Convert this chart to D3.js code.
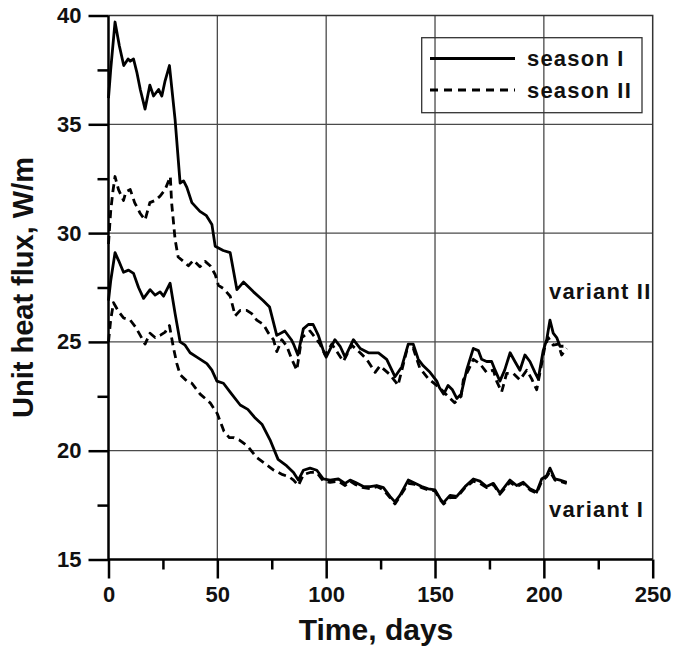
<!DOCTYPE html>
<html>
<head>
<meta charset="utf-8">
<script src="https://cdn.jsdelivr.net/npm/d3@7"></script>
<style>
  html, body { margin: 0; padding: 0; background: #fff; }
  svg { display: block; }
  text { font-family: "Liberation Sans", Arial, sans-serif; font-weight: bold; fill: #111; }
</style>
</head>
<body>
<svg id="chart" width="676" height="647"></svg>
<script>
// Axis definitions
const xDomain = [0, 250];
const yDomain = [15, 40];
const xMajorTicks = [0, 50, 100, 150, 200, 250];
const xMinorTicks = [25, 75, 125, 175, 225];
const yMajorTicks = [15, 20, 25, 30, 35, 40];
const yMinorTicks = [17.5, 22.5, 27.5, 32.5, 37.5];
const xGrid = [50, 100, 150, 200];
const yGrid = [20, 25, 30, 35];

const xTitle = "Time, days";
const yTitle = "Unit heat flux, W/m";
const legendLabels = ["season I", "season II"];
const variantLabels = ["variant II", "variant I"];

// Variant II, season I (solid)
const v2s1Days = [0,1,3,5,7,9,10,11.5,13,14.6,16.8,19,20.7,23,24.5,26,28,30.6,32.9,34.5,
  36,38.3,42,45,47.5,49,52.7,55.9,59,62,66.6,71,74,77.3,81,84,85,87,89.5,91.8,
  94,96.4,98.7,100,104,106.4,108.7,112.5,115.6,119.4,124,127.8,131.6,134.7,137.7,140,142.3,144.6,147.7,150.8,
  152,154,156,158,160,162,164.5,167.6,169.9,171.4,173.7,176,177.6,179.8,182,184.5,186.7,189,191.3,193.6,
  195.9,197.4,199.7,201.3,202.8,204.3,205.9,207.4,209];
const v2s1Values = [36.2,37.5,39.7,38.6,37.7,38.0,37.9,38.0,37.4,36.6,35.7,36.8,36.3,36.6,36.3,37.0,37.7,35.2,32.3,32.4,
  32.1,31.4,31.0,30.8,30.4,29.4,29.2,29.1,27.4,27.75,27.3,26.9,26.6,25.3,25.5,25.1,24.9,24.4,25.6,25.8,
  25.8,25.3,24.6,24.3,25.1,24.8,24.3,25.1,24.7,24.5,24.5,24.2,23.4,23.85,24.9,24.9,24.2,23.9,23.6,23.2,
  22.9,22.6,23.0,22.8,22.4,22.6,23.7,24.7,24.6,24.2,24.1,24.1,23.7,23.2,23.7,24.5,24.1,23.7,24.4,24.1,
  23.6,23.3,24.6,25.1,26.0,25.4,25.2,24.8,24.8];

// Variant II, season II (dashed)
const v2s2Days = [0,1,2,3,4.6,6.9,8,10,12,14.6,16.8,19,21.4,23.7,26,28.4,29,30.6,32,34.4,
  36.7,39,42,44.4,46.7,49,50.5,52.8,55.9,58.2,60.5,63.5,65.8,68.1,71.2,73.5,75.8,77.3,79.6,81.9,
  84.2,86.5,88.8,92.6,97.2,99.5,102.6,107.9,111.7,115.6,118.6,122.5,124.7,129.3,131.6,133,137,140,143,147,
  152,156,159,162,163,165.3,167.6,170.6,173.7,176.8,178.3,180.6,182.9,186,189,192.1,194.4,196.7,199,200.5,
  202,204.3,206.6,208.2,210.5];
const v2s2Values = [29.5,31.0,31.9,32.6,32.0,31.5,31.9,32.0,31.4,30.9,30.6,31.4,31.5,31.7,32.0,32.6,31.4,29.7,28.9,28.7,
  28.5,28.75,28.45,28.7,28.5,28.1,27.6,27.45,27.1,26.2,26.45,26.45,26.3,26.0,25.8,25.4,25.1,24.55,25.1,24.8,
  24.2,23.7,25.2,25.5,24.9,24.4,24.9,24.1,24.85,24.5,24.2,23.6,23.9,23.5,23.2,23.0,24.6,24.7,23.8,23.3,
  22.9,22.5,22.2,22.5,23.25,23.7,24.2,24.0,23.6,23.7,23.2,22.7,23.55,23.55,23.25,23.7,23.3,22.8,24.0,24.8,
  25.2,24.85,24.9,24.4,24.7];

// Variant I, season I (solid)
const v1s1Days = [0,1,3,4.6,6.9,9.2,11.5,13.8,16.1,19.1,21.4,23.7,25.3,28.3,30.6,32.9,35.2,37.5,40.6,42.9,
  45.2,47.5,49.8,52.8,55.8,60.5,64,67.4,70.6,74.2,77.9,81.9,85,87.2,89.5,92.6,95.7,98.7,101.8,105.6,
  108.7,111,113.3,117.1,120.2,123.2,126.3,129.3,131.6,133.9,137.7,140.8,143.9,146.9,150,152.3,153.8,156.9,160,163.8,
  167.6,170.6,173.7,176.8,179.8,184.4,187.5,190.5,193.6,196.7,199,201.3,202.8,205.1,207.4,210.5];
const v1s1Values = [26.9,27.8,29.1,28.75,28.2,28.3,28.15,27.5,27.0,27.4,27.15,27.3,27.1,27.7,26.3,25.0,24.85,24.5,24.3,24.15,
  24.0,23.7,23.2,23.1,22.7,22.1,21.9,21.5,21.2,20.5,19.6,19.3,19.0,18.65,19.1,19.2,19.1,18.7,18.65,18.7,
  18.5,18.65,18.55,18.35,18.35,18.4,18.3,17.9,17.65,17.95,18.65,18.5,18.35,18.25,18.2,17.8,17.6,17.95,17.9,18.35,
  18.7,18.6,18.35,18.5,18.05,18.65,18.4,18.55,18.25,18.1,18.7,18.85,19.2,18.7,18.65,18.55];

// Variant I, season II (dashed)
const v1s2Days = [0,1,2.3,4.6,6.9,10,12.3,14.6,16.8,19.1,21.4,23.7,26,28,29.8,31.4,32.9,36,38.3,42.1,
  46.7,50,53,55.5,57.5,60,64,68,72,76,80,83,85,87.2,89.5,92.6,95.7,98.7,101.8,105.6,
  108.7,111,113.3,117.1,120.2,123.2,126.3,129.3,131.6,133.9,137.7,140.8,143.9,146.9,150,152.3,154,156.9,160,163.8,
  167.6,170.6,173.7,176.8,179.8,184.4,187.5,190.5,193.6,196.7,199,201.3,202.8,205.1,207.4,210.5];
const v1s2Values = [25.0,26.0,26.8,26.4,26.1,26.0,25.7,25.3,24.9,25.4,25.2,25.3,25.45,25.75,24.75,24.0,23.5,23.2,23.1,22.6,
  22.2,21.7,20.9,20.6,20.6,20.5,20.2,19.7,19.4,19.1,18.9,18.8,18.65,18.4,18.9,19.0,19.0,18.6,18.55,18.6,
  18.4,18.6,18.45,18.3,18.25,18.35,18.2,17.85,17.55,17.9,18.5,18.45,18.3,18.2,18.15,17.75,17.55,17.85,17.85,18.3,
  18.6,18.5,18.3,18.45,18.0,18.55,18.35,18.5,18.2,18.05,18.6,18.8,19.05,18.65,18.6,18.5];

const series = [
  { days: v2s1Days, values: v2s1Values, dashed: false },
  { days: v2s2Days, values: v2s2Values, dashed: true },
  { days: v1s1Days, values: v1s1Values, dashed: false },
  { days: v1s2Days, values: v1s2Values, dashed: true }
];

const margin = { left: 108.5, top: 15.5, right: 676 - 652.7, bottom: 647 - 559.5 };
const W = 676, H = 647;
const svg = d3.select("#chart");

const x = d3.scaleLinear().domain(xDomain).range([margin.left, W - margin.right]);
const y = d3.scaleLinear().domain(yDomain).range([H - margin.bottom, margin.top]);

const gridColor = "#4a4a4a";

// grid lines
svg.append("g")
  .selectAll("line").data(xGrid).join("line")
  .attr("x1", d => x(d)).attr("x2", d => x(d))
  .attr("y1", y(yDomain[0])).attr("y2", y(yDomain[1]))
  .attr("stroke", gridColor).attr("stroke-width", 1.3);
svg.append("g")
  .selectAll("line").data(yGrid).join("line")
  .attr("x1", x(xDomain[0])).attr("x2", x(xDomain[1]))
  .attr("y1", d => y(d)).attr("y2", d => y(d))
  .attr("stroke", gridColor).attr("stroke-width", 1.3);

// top and right frame
svg.append("path")
  .attr("d", `M${x(0)},${y(40)}H${x(250)}V${y(15)}`)
  .attr("fill", "none").attr("stroke", "#333").attr("stroke-width", 1.5);

// series lines
const line = d3.line().x(d => x(d[0])).y(d => y(d[1]));
series.forEach(s => {
  const pts = s.days.map((d, i) => [d, s.values[i]]);
  svg.append("path")
    .datum(pts)
    .attr("d", line)
    .attr("fill", "none")
    .attr("stroke", "#000")
    .attr("stroke-width", 2.8)
    .attr("stroke-linejoin", "round")
    .attr("stroke-dasharray", s.dashed ? "8,5" : null);
});

// axes
function styleAxis(g) {
  g.select(".domain").remove();
  g.selectAll(".tick line").attr("stroke", "#000").attr("stroke-width", 2.5);
  g.selectAll(".tick text").attr("font-size", 22).attr("font-weight", "bold")
    .attr("font-family", "'Liberation Sans', Arial, sans-serif").attr("fill", "#111");
}
const xAxis = svg.append("g").attr("transform", `translate(0,${y(15)})`)
  .call(d3.axisBottom(x).tickValues(xMajorTicks).tickSize(19).tickPadding(8).tickFormat(d3.format("d")));
styleAxis(xAxis);
xAxis.selectAll(".tick text").attr("dy", "0.71em");
const xMinor = svg.append("g").attr("transform", `translate(0,${y(15)})`)
  .call(d3.axisBottom(x).tickValues(xMinorTicks).tickSize(10).tickFormat(""));
styleAxis(xMinor);

const yAxis = svg.append("g").attr("transform", `translate(${x(0)},0)`)
  .call(d3.axisLeft(y).tickValues(yMajorTicks).tickSize(20).tickPadding(7).tickFormat(d3.format("d")));
styleAxis(yAxis);
const yMinor = svg.append("g").attr("transform", `translate(${x(0)},0)`)
  .call(d3.axisLeft(y).tickValues(yMinorTicks).tickSize(11).tickFormat(""));
styleAxis(yMinor);

// axis lines (left and bottom)
svg.append("path")
  .attr("d", `M${x(0)},${y(40)}V${y(15)}H${x(250)}`)
  .attr("fill", "none").attr("stroke", "#000").attr("stroke-width", 2.5);

// axis titles
svg.append("text")
  .attr("x", 376).attr("y", 640)
  .attr("text-anchor", "middle").attr("font-size", 30)
  .text(xTitle);
svg.append("text")
  .attr("transform", `translate(33,${(y(15) + y(40)) / 2}) rotate(-90)`)
  .attr("text-anchor", "middle").attr("font-size", 29)
  .text(yTitle);

// legend
const lg = svg.append("g");
lg.append("rect")
  .attr("x", 421.7).attr("y", 37.7).attr("width", 220.3).attr("height", 75)
  .attr("fill", "none").attr("stroke", "#333").attr("stroke-width", 1.3);
legendLabels.forEach((lab, i) => {
  const ly = 58.5 + i * 31.5;
  lg.append("line")
    .attr("x1", 430).attr("x2", 515).attr("y1", ly).attr("y2", ly)
    .attr("stroke", "#000").attr("stroke-width", 2.8)
    .attr("stroke-dasharray", i === 1 ? "8,6" : null);
  lg.append("text")
    .attr("x", 527).attr("y", ly + 7.5)
    .attr("font-size", 22).attr("letter-spacing", 1.2)
    .text(lab);
});

// variant annotations
svg.append("text").attr("x", 549).attr("y", 299)
  .attr("font-size", 22).attr("letter-spacing", 1.2).text(variantLabels[0]);
svg.append("text").attr("x", 549).attr("y", 517)
  .attr("font-size", 22).attr("letter-spacing", 1.2).text(variantLabels[1]);
</script>
</body>
</html>
